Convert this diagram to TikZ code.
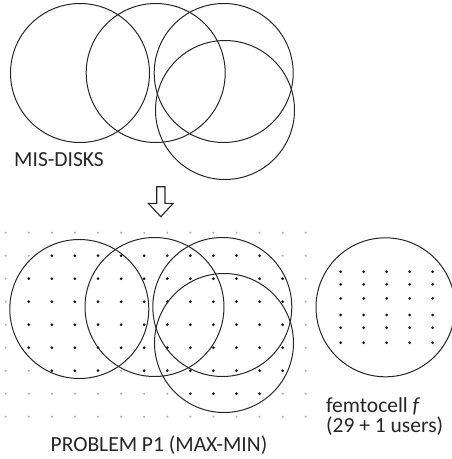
\documentclass[tikz,border=0pt]{standalone}
\usepackage{fontspec}
\setmainfont{Carlito}
\begin{document}
\begin{tikzpicture}[x=1pt,y=-1pt,
  disk/.style={draw=black!85,line width=1pt,circle,minimum size=139pt,inner sep=0pt},
  lbl/.style={inner sep=0pt,font=\fontsize{21.5}{24}\selectfont,text=black!85},
  gdot/.style={fill=black!30},
  bdot/.style={fill=black!90}]
\useasboundingbox (0,0) rectangle (452,459);
% --- top: MIS-DISKS ---
\node[disk] (t1) at (80,73) {};
\node[disk] (t2) at (155.7,73) {};
\node[disk] (t3) at (223.7,73) {};
\node[disk] (t4) at (225,110) {};
\node[lbl,anchor=base west] (mis) at (14,166.5) {MIS-DISKS};
% --- hollow arrow ---
\draw[line width=1.1pt,draw=black!85,line join=miter]
  (156.7,186.7) -- (165,186.7) -- (165,203.3) -- (173.3,203.3) -- (160.8,216.7)
  -- (148.3,203.3) -- (156.7,203.3) -- cycle;
% --- grid dots ---
\foreach \c in {0,...,13}{
  \foreach \r in {0,...,8}{
    \fill[gdot] ({5.7+23.08*\c},{232.7+23*\r}) circle[radius=1.2pt];
  }
}
\foreach \r/\cols in {1/{2,3,4,5,6,7,8,9,10,11},
                      2/{1,2,3,4,5,6,7,8,9,10,11,12},
                      3/{1,2,3,4,5,6,7,8,9,10,11,12},
                      4/{1,2,3,4,5,6,7,8,9,10,11,12},
                      5/{1,2,3,4,5,6,7,8,9,10,11,12},
                      6/{2,3,4,6,7,8,9,10,11,12},
                      7/{8,9,10,11}}{
  \foreach \c in \cols{
    \fill[bdot] ({5.7+23.08*\c},{232.7+23*\r}) circle[radius=1.5pt];
  }
}
% --- bottom disks ---
\node[disk] (b1) at (79.3,309) {};
\node[disk] (b2) at (154.5,307) {};
\node[disk] (b3) at (222.3,307) {};
\node[disk] (b4) at (224,343) {};
\node[lbl,anchor=base] (prob) at (159,451) {PROBLEM P1 (MAX-MIN)};
% --- femtocell ---
\node[disk] (fc) at (385.5,307.3) {};
\foreach \y in {271.7,284.3,298.3,315,327.7,342.7}{
  \foreach \x in {340.7,363.7,386.7,409.7,432.7}{
    \fill[bdot] (\x,\y) circle[radius=1.5pt];
  }
}
\node[lbl,anchor=base west,align=left,font=\fontsize{21.5}{19.5}\selectfont] (fl) at (326,432)
  {femtocell \textit{f}\\(29 + 1 users)};
\end{tikzpicture}
\end{document}
